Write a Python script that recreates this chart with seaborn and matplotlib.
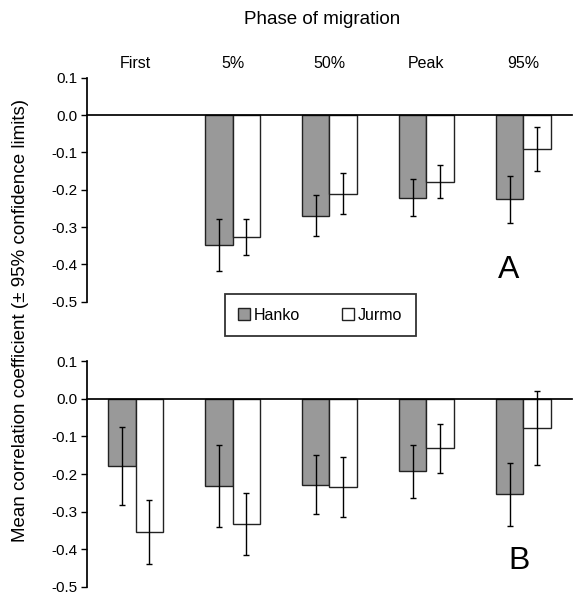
import numpy as np
import pandas as pd
import matplotlib
matplotlib.use("Agg")
import matplotlib.pyplot as plt
import matplotlib.patches as mpatches
import seaborn as sns

sns.set_theme(style="white")
plt.rcParams['font.family'] = ['Liberation Sans', 'DejaVu Sans']
plt.rcParams['text.color'] = 'black'
plt.rcParams['xtick.color'] = 'black'
plt.rcParams['ytick.color'] = 'black'

phases = ["First", "5%", "50%", "Peak", "95%"]
sites = ["Hanko", "Jurmo"]
colors = {"Hanko": "#999999", "Jurmo": "#ffffff"}
yticks = [-0.5, -0.4, -0.3, -0.2, -0.1, 0.0, 0.1]

# panel A (no data for "First")
a_hanko = [np.nan, -0.348, -0.269, -0.221, -0.225]
a_hanko_ci = [np.nan, 0.070, 0.054, 0.050, 0.063]
a_jurmo = [np.nan, -0.327, -0.210, -0.178, -0.092]
a_jurmo_ci = [np.nan, 0.048, 0.056, 0.044, 0.059]

# panel B
b_hanko = [-0.178, -0.232, -0.228, -0.193, -0.254]
b_hanko_ci = [0.104, 0.108, 0.078, 0.070, 0.083]
b_jurmo = [-0.355, -0.333, -0.234, -0.132, -0.078]
b_jurmo_ci = [0.085, 0.083, 0.080, 0.065, 0.098]


def make_df(hanko, hanko_ci, jurmo, jurmo_ci):
    rows = []
    for site, vals, cis in [("Hanko", hanko, hanko_ci), ("Jurmo", jurmo, jurmo_ci)]:
        for p, v, c in zip(phases, vals, cis):
            rows.append({"phase": p, "site": site, "r": v, "ci": c})
    return pd.DataFrame(rows).dropna()


def draw_panel(ax, df, letter, letter_pos, top_labels=False):
    sns.barplot(data=df, x="phase", y="r", hue="site", order=phases, hue_order=sites,
                palette=colors, edgecolor="#222222", linewidth=1.0, width=0.57,
                errorbar=None, legend=False, ax=ax)
    # error bars at the drawn bar centres
    for site, cont in zip(sites, ax.containers):
        sub = df[df["site"] == site]
        for bar, (_, row) in zip(cont.patches, sub.iterrows()):
            xc = bar.get_x() + bar.get_width() / 2
            ax.errorbar(xc, row["r"], yerr=row["ci"], fmt="none", ecolor="black",
                        elinewidth=1.0, capsize=2, capthick=1.0)
    ax.set_xlim(-0.5, 4.5)
    ax.set_ylim(-0.5, 0.1)
    ax.set_yticks(yticks)
    ax.set_yticklabels([f"{t:.1f}" for t in yticks], fontsize=11)
    ax.spines["top"].set_visible(False)
    ax.spines["right"].set_visible(False)
    ax.spines["left"].set_color("black")
    ax.spines["bottom"].set_color("black")
    ax.spines["bottom"].set_position(("data", 0))
    ax.set_xticks([0.5, 1.5, 2.5, 3.5])
    ax.set_xticklabels([])
    ax.tick_params(axis="x", direction="out", length=2, width=1)
    ax.tick_params(axis="y", direction="out", length=4, width=1, left=True, pad=3)
    ax.set_xlabel("")
    ax.set_ylabel("")
    ax.text(letter_pos[0], letter_pos[1], letter, fontsize=23, ha="center", va="center")
    if top_labels:
        sec = ax.secondary_xaxis("top")
        sec.set_xticks(range(len(phases)))
        sec.set_xticklabels(phases, fontsize=11.5)
        sec.tick_params(length=0, pad=5)
        sec.spines["top"].set_visible(False)


fig = plt.figure(figsize=(5.73, 5.94), dpi=100)
ax_a = fig.add_axes([0.152, 0.492, 0.846, 0.377])
ax_b = fig.add_axes([0.152, 0.012, 0.846, 0.380])

draw_panel(ax_a, make_df(a_hanko, a_hanko_ci, a_jurmo, a_jurmo_ci), "A", (3.85, -0.415), top_labels=True)
draw_panel(ax_b, make_df(b_hanko, b_hanko_ci, b_jurmo, b_jurmo_ci), "B", (3.96, -0.43))

fig.text(0.563, 0.968, "Phase of migration", fontsize=13.5, ha="center", va="center")
fig.text(0.036, 0.46, "Mean correlation coefficient (\u00b1 95% confidence limits)",
         fontsize=13.5, rotation=90, ha="center", va="center")

handles = [mpatches.Patch(facecolor=colors[s], edgecolor="#222222", linewidth=1.0, label=s)
           for s in sites]
leg = fig.legend(handles=handles, loc="center", bbox_to_anchor=(0.559, 0.4695), ncol=2,
                 fontsize=11.5, frameon=True, fancybox=False, handlelength=0.75, handleheight=0.75,
                 handletextpad=0.25, columnspacing=2.6, borderpad=0.85, borderaxespad=0)
leg.get_frame().set_edgecolor("black")
leg.get_frame().set_linewidth(1.3)

fig.savefig("out.png", dpi=100)
